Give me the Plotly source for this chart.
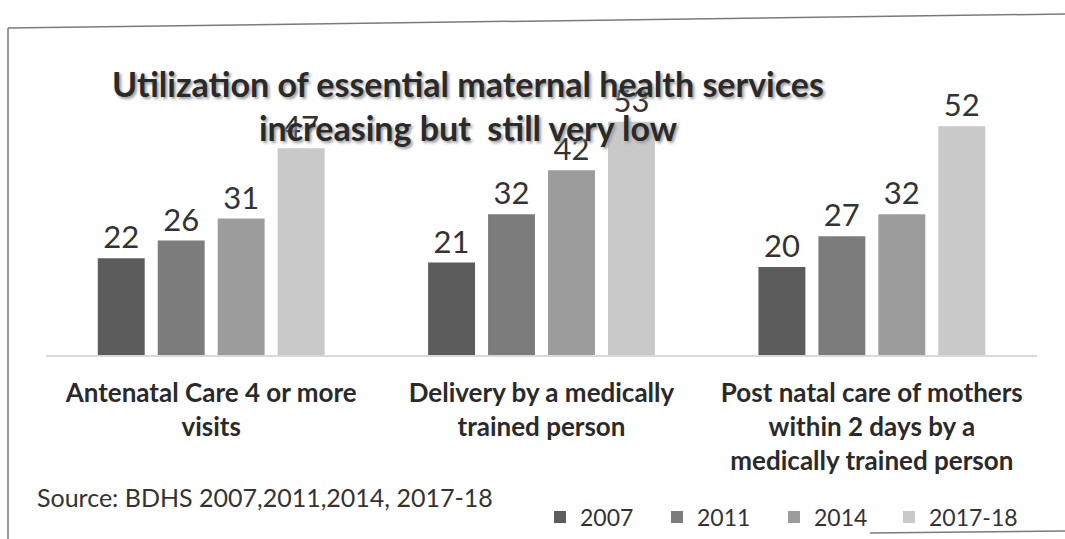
import plotly.graph_objects as go

categories = [
    "Antenatal Care 4 or more<br>visits",
    "Delivery by a medically<br>trained person",
    "Post natal care of mothers<br>within 2 days by a<br>medically trained person",
]
series_names = ["2007", "2011", "2014", "2017-18"]
values_2007 = [22, 21, 20]
values_2011 = [26, 32, 27]
values_2014 = [31, 42, 32]
values_2017 = [47, 53, 52]
colors = ["#5c5c5c", "#7c7c7c", "#9c9c9c", "#c9c9c9"]

W, H = 1065, 539
L, R, T, B = 46, 28, 91, 184
pw, ph = W - L - R, H - T - B


def px(x):
    return (x - L) / pw


def py(y):
    return (H - B - y) / ph


FONT = "Lato, 'Open Sans', sans-serif"

fig = go.Figure()
legend_refs = ["legend", "legend", "legend", "legend2"]
for name, vals, col, lg in zip(series_names, [values_2007, values_2011, values_2014, values_2017],
                               colors, legend_refs):
    fig.add_trace(go.Bar(
        name=name, x=categories, y=vals, legend=lg,
        marker=dict(color=col, line=dict(width=0)),
        text=vals, textposition="outside", cliponaxis=False,
        textfont=dict(size=31, color="#333333", family=FONT),
    ))

legend_font = dict(size=23, color="#333333", family=FONT)

fig.update_layout(
    width=W, height=H,
    margin=dict(l=L, r=R, t=T, b=B, autoexpand=False),
    paper_bgcolor="white", plot_bgcolor="white",
    barmode="group", bargap=0.274, bargroupgap=0.217,
    font=dict(family=FONT, color="#333333"),
    title=dict(
        text="Utilization of essential maternal health services<br>increasing but  still very low",
        x=468 / W, xanchor="center", y=1 - 97 / H, yanchor="middle",
        font=dict(size=34, color="#2a2a2a", family=FONT, weight="bold",
                  shadow="2px 2px 3px #9a9a9a"),
    ),
    xaxis=dict(
        showline=True, linecolor="#d9d9d9", linewidth=1.5, automargin=False,
        ticks="", tickangle=0,
        tickfont=dict(size=26, color="#2a2a2a", family=FONT, weight="bold"),
        ticklabelstandoff=14, showgrid=False,
    ),
    yaxis=dict(range=[0, 60], visible=False, showgrid=False, automargin=False),
    legend=dict(
        orientation="h", x=px(540), xanchor="left", y=py(517), yanchor="middle",
        entrywidth=72, entrywidthmode="pixels",
        font=legend_font, bgcolor="rgba(0,0,0,0)",
    ),
    legend2=dict(
        orientation="h", x=px(889), xanchor="left", y=py(517), yanchor="middle",
        font=legend_font, bgcolor="rgba(0,0,0,0)",
    ),
    showlegend=True,
)

fig.add_annotation(
    text="Source: BDHS 2007,2011,2014, 2017-18",
    xref="paper", yref="paper", x=px(35), y=py(497),
    xanchor="left", yanchor="middle", showarrow=False,
    font=dict(size=25, color="#333333", family=FONT),
)

# photographed page frame
frame_lines = [((8, 28), (1065, 14)), ((8, 28), (8, 539)), ((870, 533), (1065, 531))]
for (x0, y0), (x1, y1) in frame_lines:
    fig.add_shape(type="line", xref="paper", yref="paper",
                  x0=px(x0), y0=py(y0), x1=px(x1), y1=py(y1),
                  line=dict(color="#7a7a7a", width=1.5))

fig.write_html(
    "out.html",
    config={"displayModeBar": False},
    post_script="document.body.style.margin='0';document.body.style.overflow='hidden';",
)
